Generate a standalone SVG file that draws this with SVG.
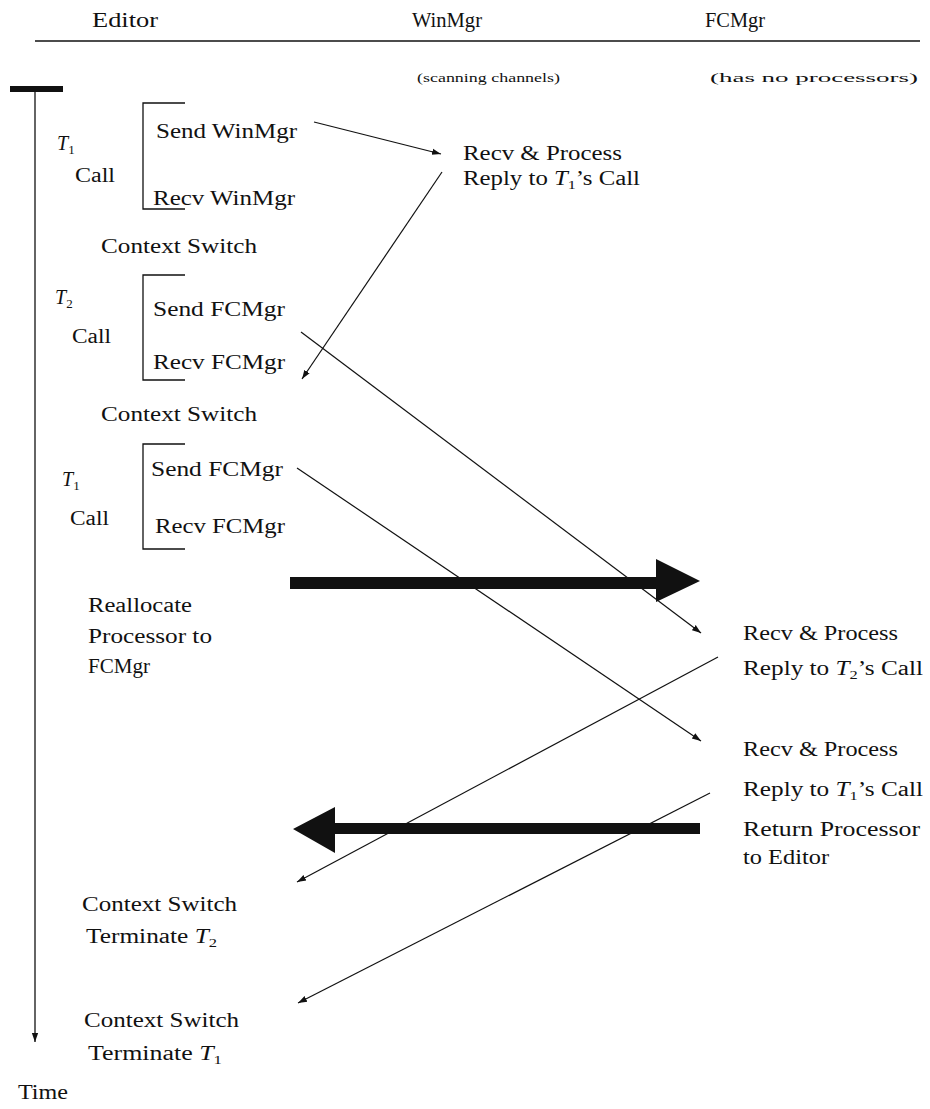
<svg xmlns="http://www.w3.org/2000/svg" width="930" height="1109" viewBox="0 0 930 1109">
<style>
text{font-family:'Liberation Serif','Times New Roman','DejaVu Serif',serif;font-size:20px;fill:#111}
.s{font-size:13px}
.i{font-style:italic}
.ln{stroke:#111;stroke-width:1.3;fill:none}
.thin{stroke:#111;stroke-width:1.2;fill:none;marker-end:url(#ah)}
.br{stroke:#111;stroke-width:1.3;fill:none}
</style>
<defs>
<marker id="ah" viewBox="0 0 10 10" refX="10" refY="5" markerWidth="9" markerHeight="9" markerUnits="userSpaceOnUse" orient="auto">
<path d="M0,1.5 L10,5 L0,8.5 z" fill="#111"/>
</marker>
</defs>
<g id="header">
<text x="92" y="27" textLength="66" lengthAdjust="spacingAndGlyphs">Editor</text>
<text x="412" y="27" textLength="70" lengthAdjust="spacingAndGlyphs">WinMgr</text>
<text x="705" y="27" textLength="60" lengthAdjust="spacingAndGlyphs">FCMgr</text>
<line class="ln" x1="35" y1="41" x2="920" y2="41"/>
<text class="s" x="417" y="82" textLength="143" lengthAdjust="spacingAndGlyphs">(scanning channels)</text>
<text class="s" x="710" y="82" textLength="208" lengthAdjust="spacingAndGlyphs">(has no processors)</text>
</g>
<g id="timeline">
<rect x="10" y="86" width="53" height="6" fill="#111"/>
<line class="ln" x1="35" y1="92" x2="35" y2="1042" marker-end="url(#ah)"/>
<text x="18" y="1099" textLength="50" lengthAdjust="spacingAndGlyphs">Time</text>
</g>
<g id="call1">
<text x="57" y="150"><tspan class="i">T</tspan><tspan font-size="13" dy="4">1</tspan></text>
<text x="75" y="182" textLength="40" lengthAdjust="spacingAndGlyphs">Call</text>
<path class="br" d="M185,103 H143 V209 H185"/>
<text x="156" y="138" textLength="141" lengthAdjust="spacingAndGlyphs">Send WinMgr</text>
<text x="153" y="205" textLength="142" lengthAdjust="spacingAndGlyphs">Recv WinMgr</text>
</g>
<g id="winmgr">
<text x="463" y="160" textLength="159" lengthAdjust="spacingAndGlyphs">Recv &amp; Process</text>
<text x="463" y="185" textLength="177" lengthAdjust="spacingAndGlyphs">Reply to <tspan class="i">T</tspan><tspan font-size="13" dy="4">1</tspan><tspan dy="-4">’s Call</tspan></text>
</g>
<g id="cs1"><text x="101" y="253" textLength="156" lengthAdjust="spacingAndGlyphs">Context Switch</text></g>
<g id="call2">
<text x="55" y="304"><tspan class="i">T</tspan><tspan font-size="13" dy="4">2</tspan></text>
<text x="72" y="343" textLength="39" lengthAdjust="spacingAndGlyphs">Call</text>
<path class="br" d="M185,275 H143 V380 H185"/>
<text x="153" y="316" textLength="132" lengthAdjust="spacingAndGlyphs">Send FCMgr</text>
<text x="153" y="369" textLength="132" lengthAdjust="spacingAndGlyphs">Recv FCMgr</text>
</g>
<g id="cs2"><text x="101" y="421" textLength="156" lengthAdjust="spacingAndGlyphs">Context Switch</text></g>
<g id="call3">
<text x="62" y="486"><tspan class="i">T</tspan><tspan font-size="13" dy="4">1</tspan></text>
<text x="70" y="525" textLength="39" lengthAdjust="spacingAndGlyphs">Call</text>
<path class="br" d="M185,444 H143 V549 H185"/>
<text x="151" y="476" textLength="132" lengthAdjust="spacingAndGlyphs">Send FCMgr</text>
<text x="155" y="533" textLength="130" lengthAdjust="spacingAndGlyphs">Recv FCMgr</text>
</g>
<g id="realloc">
<text x="88" y="612" textLength="104" lengthAdjust="spacingAndGlyphs">Reallocate</text>
<text x="88" y="643" textLength="124" lengthAdjust="spacingAndGlyphs">Processor to</text>
<text x="88" y="673" textLength="62" lengthAdjust="spacingAndGlyphs">FCMgr</text>
</g>
<g id="fcmgr1">
<text x="743" y="640" textLength="155" lengthAdjust="spacingAndGlyphs">Recv &amp; Process</text>
<text x="743" y="675" textLength="180" lengthAdjust="spacingAndGlyphs">Reply to <tspan class="i">T</tspan><tspan font-size="13" dy="4">2</tspan><tspan dy="-4">’s Call</tspan></text>
</g>
<g id="fcmgr2">
<text x="743" y="756" textLength="155" lengthAdjust="spacingAndGlyphs">Recv &amp; Process</text>
<text x="743" y="796" textLength="180" lengthAdjust="spacingAndGlyphs">Reply to <tspan class="i">T</tspan><tspan font-size="13" dy="4">1</tspan><tspan dy="-4">’s Call</tspan></text>
</g>
<g id="return">
<text x="743" y="836" textLength="177" lengthAdjust="spacingAndGlyphs">Return Processor</text>
<text x="743" y="864" textLength="86" lengthAdjust="spacingAndGlyphs">to Editor</text>
</g>
<g id="end2">
<text x="82" y="911" textLength="155" lengthAdjust="spacingAndGlyphs">Context Switch</text>
<text x="86" y="943" textLength="131" lengthAdjust="spacingAndGlyphs">Terminate <tspan class="i">T</tspan><tspan font-size="13" dy="4">2</tspan></text>
</g>
<g id="end1">
<text x="84" y="1027" textLength="155" lengthAdjust="spacingAndGlyphs">Context Switch</text>
<text x="88" y="1060" textLength="134" lengthAdjust="spacingAndGlyphs">Terminate <tspan class="i">T</tspan><tspan font-size="13" dy="4">1</tspan></text>
</g>
<g id="connectors">
<line class="thin" x1="314" y1="122" x2="441" y2="154"/>
<line class="thin" x1="442" y1="172" x2="302" y2="379"/>
<line class="thin" x1="301" y1="332" x2="701" y2="633"/>
<line class="thin" x1="297" y1="468" x2="701" y2="741"/>
<line class="thin" x1="718" y1="657" x2="297" y2="882"/>
<line class="thin" x1="710" y1="793" x2="298" y2="1003"/>
<path d="M290,577 H656 V559 L700,581 L656,602 V589 H290 z" fill="#111"/>
<path d="M700,823 H335 V807 L293,829 L335,853 V834 H700 z" fill="#111"/>
</g>
</svg>
